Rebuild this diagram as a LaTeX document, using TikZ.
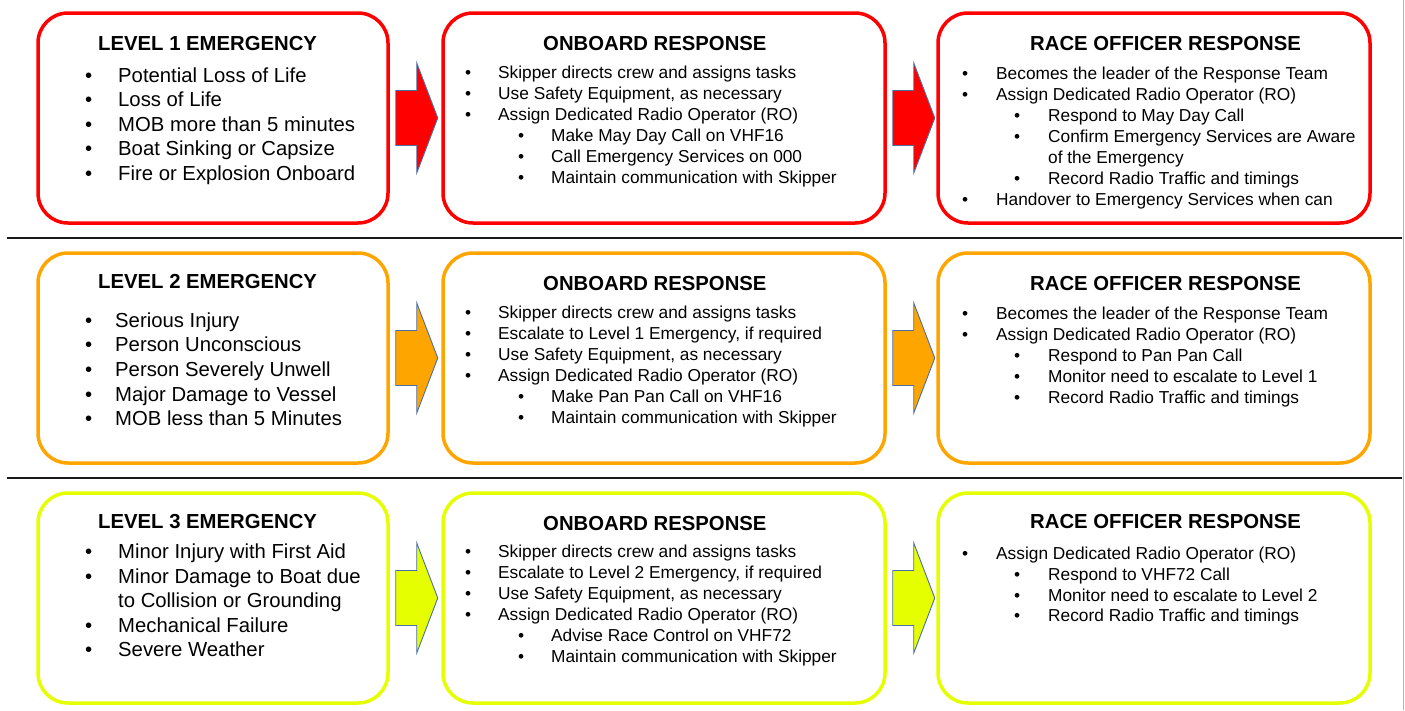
\documentclass[tikz,border=0pt]{standalone}
\usepackage{fontspec}
\setmainfont{Liberation Sans}
\usetikzlibrary{calc}
\definecolor{lvred}{HTML}{FF0000}
\definecolor{lvorange}{HTML}{FFA500}
\definecolor{lvyellow}{HTML}{E6FF00}
\definecolor{arrowblue}{HTML}{4A6FA5}
\newcommand{\bul}[1]{\makebox[#1][l]{•}}
\newcommand{\blockarrow}[2]{%
  \draw[arrowline, fill=#2] ($(#1.east)+(6,-27.5)$) -- ++(21,0) -- ++(0,-27.5)
    -- ++(21,55) -- ++(-21,55) -- ++(0,-27.5) -- ++(-21,0) -- cycle;}
\tikzset{
  panel/.style={draw=#1, line width=3.5pt, rounded corners=30pt, fill=white,
    minimum height=210pt, inner sep=0pt},
  arrowline/.style={draw=arrowblue, line width=0.9pt, line join=miter},
  ttl/.style={font=\fontsize{20.3}{24}\selectfont\bfseries, anchor=base west, inner sep=0pt},
  lg/.style={font=\fontsize{20.3}{24}\selectfont, anchor=base west, inner sep=0pt},
  sm/.style={font=\fontsize{17.3}{21}\selectfont, anchor=base west, inner sep=0pt},
  sepline/.style={line width=2.5pt, draw=black!90}
}
\begin{document}
\begin{tikzpicture}[x=1pt,y=-1pt]
\path[fill=white, use as bounding box] (0,0) rectangle (1405,710);
\draw[gray!60, line width=1pt] (1403.5,0) -- (1403.5,710);
% separators
\draw[sepline] (7,238) -- (1402,238);
\draw[sepline] (7,478) -- (1402,478);

% ---------------- Row 1 ----------------
\node[panel=lvred, minimum width=350pt] (A1) at (213,118) {};
\node[panel=lvred, minimum width=442pt] (B1) at (664,118) {};
\node[panel=lvred, minimum width=432pt] (C1) at (1154,118) {};
\blockarrow{A1}{lvred}
\blockarrow{B1}{lvred}

\node[ttl] (A1t) at (98,50) {LEVEL 1 EMERGENCY};
\node[lg] (A1i1) at (85,82) {\bul{33pt}Potential Loss of Life};
\node[lg] (A1i2) at (85,106) {\bul{33pt}Loss of Life};
\node[lg] (A1i3) at (85,131) {\bul{33pt}MOB more than 5 minutes};
\node[lg] (A1i4) at (85,155) {\bul{33pt}Boat Sinking or Capsize};
\node[lg] (A1i5) at (85,180) {\bul{33pt}Fire or Explosion Onboard};

\node[ttl] (B1t) at (543,50) {ONBOARD RESPONSE};
\node[sm] (B1i1) at (465,78) {\bul{33pt}Skipper directs crew and assigns tasks};
\node[sm] (B1i2) at (465,99) {\bul{33pt}Use Safety Equipment, as necessary};
\node[sm] (B1i3) at (465,120) {\bul{33pt}Assign Dedicated Radio Operator (RO)};
\node[sm] (B1i4) at (518,141) {\bul{33pt}Make May Day Call on VHF16};
\node[sm] (B1i5) at (518,162) {\bul{33pt}Call Emergency Services on 000};
\node[sm] (B1i6) at (518,183) {\bul{33pt}Maintain communication with Skipper};

\node[ttl] (C1t) at (1030,50) {RACE OFFICER RESPONSE};
\node[sm] (C1i1) at (962,79) {\bul{34pt}Becomes the leader of the Response Team};
\node[sm] (C1i2) at (962,100) {\bul{34pt}Assign Dedicated Radio Operator (RO)};
\node[sm] (C1i3) at (1014,121) {\bul{34pt}Respond to May Day Call};
\node[sm] (C1i4) at (1014,142) {\bul{34pt}Confirm Emergency Services are Aware};
\node[sm] (C1i5) at (1048,163) {of the Emergency};
\node[sm] (C1i6) at (1014,184) {\bul{34pt}Record Radio Traffic and timings};
\node[sm] (C1i7) at (962,205) {\bul{34pt}Handover to Emergency Services when can};

% ---------------- Row 2 ----------------
\node[panel=lvorange, minimum width=350pt] (A2) at (213,358) {};
\node[panel=lvorange, minimum width=442pt] (B2) at (664,358) {};
\node[panel=lvorange, minimum width=432pt] (C2) at (1154,358) {};
\blockarrow{A2}{lvorange}
\blockarrow{B2}{lvorange}

\node[ttl] (A2t) at (98,288) {LEVEL 2 EMERGENCY};
\node[lg] (A2i1) at (85,327) {\bul{30pt}Serious Injury};
\node[lg] (A2i2) at (85,351) {\bul{30pt}Person Unconscious};
\node[lg] (A2i3) at (85,376) {\bul{30pt}Person Severely Unwell};
\node[lg] (A2i4) at (85,401) {\bul{30pt}Major Damage to Vessel};
\node[lg] (A2i5) at (85,425) {\bul{30pt}MOB less than 5 Minutes};

\node[ttl] (B2t) at (543,290) {ONBOARD RESPONSE};
\node[sm] (B2i1) at (465,318) {\bul{33pt}Skipper directs crew and assigns tasks};
\node[sm] (B2i2) at (465,339) {\bul{33pt}Escalate to Level 1 Emergency, if required};
\node[sm] (B2i3) at (465,360) {\bul{33pt}Use Safety Equipment, as necessary};
\node[sm] (B2i4) at (465,381) {\bul{33pt}Assign Dedicated Radio Operator (RO)};
\node[sm] (B2i5) at (518,402) {\bul{33pt}Make Pan Pan Call on VHF16};
\node[sm] (B2i6) at (518,423) {\bul{33pt}Maintain communication with Skipper};

\node[ttl] (C2t) at (1030,290) {RACE OFFICER RESPONSE};
\node[sm] (C2i1) at (962,319) {\bul{34pt}Becomes the leader of the Response Team};
\node[sm] (C2i2) at (962,340) {\bul{34pt}Assign Dedicated Radio Operator (RO)};
\node[sm] (C2i3) at (1014,361) {\bul{34pt}Respond to Pan Pan Call};
\node[sm] (C2i4) at (1014,382) {\bul{34pt}Monitor need to escalate to Level 1};
\node[sm] (C2i5) at (1014,403) {\bul{34pt}Record Radio Traffic and timings};

% ---------------- Row 3 ----------------
\node[panel=lvyellow, minimum width=350pt] (A3) at (213,598) {};
\node[panel=lvyellow, minimum width=442pt] (B3) at (664,598) {};
\node[panel=lvyellow, minimum width=432pt] (C3) at (1154,598) {};
\blockarrow{A3}{lvyellow}
\blockarrow{B3}{lvyellow}

\node[ttl] (A3t) at (98,528) {LEVEL 3 EMERGENCY};
\node[lg] (A3i1) at (85,558) {\bul{33pt}Minor Injury with First Aid};
\node[lg] (A3i2) at (85,583) {\bul{33pt}Minor Damage to Boat due};
\node[lg] (A3i3) at (118,607) {to Collision or Grounding};
\node[lg] (A3i4) at (85,632) {\bul{33pt}Mechanical Failure};
\node[lg] (A3i5) at (85,656) {\bul{33pt}Severe Weather};

\node[ttl] (B3t) at (543,530) {ONBOARD RESPONSE};
\node[sm] (B3i1) at (465,557) {\bul{33pt}Skipper directs crew and assigns tasks};
\node[sm] (B3i2) at (465,578) {\bul{33pt}Escalate to Level 2 Emergency, if required};
\node[sm] (B3i3) at (465,599) {\bul{33pt}Use Safety Equipment, as necessary};
\node[sm] (B3i4) at (465,620) {\bul{33pt}Assign Dedicated Radio Operator (RO)};
\node[sm] (B3i5) at (518,641) {\bul{33pt}Advise Race Control on VHF72};
\node[sm] (B3i6) at (518,662) {\bul{33pt}Maintain communication with Skipper};

\node[ttl] (C3t) at (1030,528) {RACE OFFICER RESPONSE};
\node[sm] (C3i1) at (962,559) {\bul{34pt}Assign Dedicated Radio Operator (RO)};
\node[sm] (C3i2) at (1014,580) {\bul{34pt}Respond to VHF72 Call};
\node[sm] (C3i3) at (1014,601) {\bul{34pt}Monitor need to escalate to Level 2};
\node[sm] (C3i4) at (1014,621) {\bul{34pt}Record Radio Traffic and timings};
\end{tikzpicture}
\end{document}
